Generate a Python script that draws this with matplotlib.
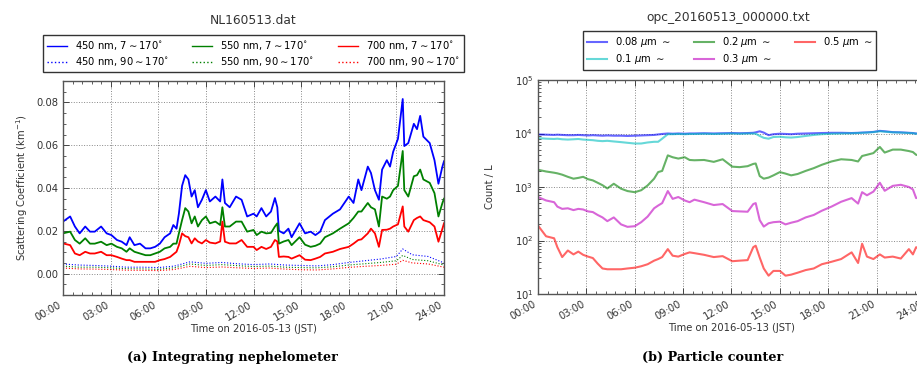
import numpy as np
import matplotlib
matplotlib.use("Agg")
import matplotlib.pyplot as plt
from matplotlib.ticker import FixedLocator, MultipleLocator, LogLocator, NullFormatter

# ---------------- data: integrating nephelometer ----------------
t_neph = [0.0, 0.45, 0.75, 1.05, 1.4, 1.7, 2.0, 2.4, 2.75, 3.05, 3.4, 3.7, 4.0, 4.2, 4.5,
          4.85, 5.2, 5.5, 5.8, 6.1, 6.4, 6.75, 6.95, 7.15, 7.3, 7.5, 7.7, 7.9, 8.1, 8.3,
          8.5, 8.75, 9.0, 9.25, 9.6, 9.9, 10.04, 10.2, 10.5, 10.9, 11.25, 11.6, 12.0, 12.2,
          12.5, 12.8, 13.1, 13.35, 13.5, 13.6, 13.9, 14.2, 14.4, 14.9, 15.25, 15.6, 15.9,
          16.2, 16.5, 17.0, 17.45, 18.0, 18.3, 18.6, 18.8, 19.2, 19.4, 19.65, 19.9, 20.1,
          20.4, 20.6, 20.8, 21.1, 21.4, 21.5, 21.75, 22.1, 22.3, 22.5, 22.7, 23.1, 23.4,
          23.65, 23.9, 24.0]

b450_tot = [0.0243, 0.0267, 0.022, 0.0188, 0.022, 0.0196, 0.0196, 0.022, 0.0188, 0.018,
            0.0157, 0.0149, 0.0133, 0.017, 0.0133, 0.014, 0.0118, 0.0118, 0.0125, 0.014,
            0.017, 0.0188, 0.0227, 0.021, 0.028, 0.041, 0.046, 0.044, 0.036, 0.039,
            0.031, 0.0345, 0.039, 0.0337, 0.036, 0.0337, 0.044, 0.033, 0.031, 0.036,
            0.0345, 0.0267, 0.028, 0.0267, 0.0306, 0.0267, 0.029, 0.0353, 0.031, 0.020,
            0.0188, 0.021, 0.017, 0.0235, 0.0188, 0.0196, 0.018, 0.0196, 0.025, 0.028,
            0.030, 0.036, 0.033, 0.044, 0.039, 0.050, 0.047, 0.039, 0.0345, 0.0486,
            0.053, 0.050, 0.057, 0.063, 0.0816, 0.0596, 0.061, 0.070, 0.0675, 0.0737,
            0.064, 0.061, 0.053, 0.042, 0.050, 0.0525]

b550_tot = [0.0188, 0.0196, 0.0157, 0.014, 0.0165, 0.014, 0.014, 0.0149, 0.0133, 0.014,
            0.0125, 0.0118, 0.0102, 0.0118, 0.0102, 0.0094, 0.0086, 0.0086, 0.0094, 0.0102,
            0.0118, 0.0125, 0.014, 0.014, 0.0188, 0.025, 0.0306, 0.029, 0.0235, 0.0267,
            0.022, 0.025, 0.0267, 0.0235, 0.0243, 0.0227, 0.031, 0.022, 0.022, 0.0243,
            0.0243, 0.0196, 0.0204, 0.018, 0.0196, 0.0188, 0.019, 0.022, 0.0235, 0.014,
            0.015, 0.0157, 0.0133, 0.017, 0.0135, 0.0125, 0.013, 0.014, 0.017, 0.0188,
            0.021, 0.0235, 0.026, 0.029, 0.029, 0.033, 0.031, 0.030, 0.022, 0.036,
            0.035, 0.036, 0.039, 0.041, 0.0573, 0.039, 0.036, 0.0455, 0.046, 0.0486,
            0.044, 0.0424, 0.0376, 0.0267, 0.033, 0.035]

b700_tot = [0.0141, 0.0133, 0.0094, 0.0086, 0.0102, 0.0094, 0.0094, 0.0102, 0.0086, 0.0086,
            0.0078, 0.007, 0.0063, 0.0063, 0.0055, 0.0055, 0.0055, 0.0055, 0.0055, 0.0063,
            0.0068, 0.0078, 0.009, 0.0102, 0.0133, 0.0188, 0.0175, 0.017, 0.0141, 0.0165,
            0.015, 0.0141, 0.0157, 0.0145, 0.0141, 0.015, 0.0243, 0.0149, 0.0141, 0.0141,
            0.0157, 0.0125, 0.0125, 0.011, 0.0125, 0.0115, 0.0125, 0.0157, 0.015, 0.0078,
            0.008, 0.0078, 0.007, 0.0086, 0.0065, 0.0063, 0.007, 0.0078, 0.0094, 0.0102,
            0.0115, 0.0125, 0.014, 0.0157, 0.016, 0.0188, 0.021, 0.0188, 0.0125, 0.0204,
            0.0205, 0.021, 0.022, 0.023, 0.0314, 0.022, 0.0196, 0.025, 0.026, 0.0267,
            0.025, 0.024, 0.022, 0.0149, 0.021, 0.0235]

t_back = [0, 1, 2, 3, 4, 5, 6, 7, 8, 9, 10, 11, 12, 13, 14, 15, 16, 17, 18, 19, 20, 21,
          21.4, 22, 23, 24]
b450_back = [0.0045, 0.0040, 0.0038, 0.0035, 0.0030, 0.0030, 0.0028, 0.0035, 0.0055, 0.0048,
             0.0052, 0.0046, 0.0042, 0.0045, 0.0040, 0.0038, 0.0036, 0.0042, 0.0052, 0.0060,
             0.0068, 0.0080, 0.0115, 0.0088, 0.0080, 0.0050]
b550_back = [0.0035, 0.0030, 0.0030, 0.0027, 0.0023, 0.0022, 0.0020, 0.0027, 0.0045, 0.0038,
             0.0042, 0.0037, 0.0033, 0.0035, 0.0030, 0.0028, 0.0027, 0.0032, 0.0040, 0.0046,
             0.0052, 0.0060, 0.0085, 0.0066, 0.0060, 0.0040]
b700_back = [0.0026, 0.0022, 0.0021, 0.0019, 0.0016, 0.0015, 0.0014, 0.0019, 0.0034, 0.0028,
             0.0031, 0.0027, 0.0024, 0.0026, 0.0021, 0.0018, 0.0017, 0.0022, 0.0029, 0.0034,
             0.0038, 0.0044, 0.0062, 0.0050, 0.0045, 0.0030]

# ---------------- data: optical particle counter ----------------
t_opc = [0, 0.5, 1.0, 1.2, 1.5, 1.85, 2.2, 2.5, 2.8, 3.1, 3.4, 3.7, 4.0, 4.3, 4.7, 5.15,
         5.55, 6.0, 6.4, 6.8, 7.2, 7.45, 7.7, 8.05, 8.35, 8.7, 9.1, 9.4, 9.7, 10.3, 10.9,
         11.45, 12.05, 12.5, 13.0, 13.35, 13.5, 13.75, 14.0, 14.3, 14.6, 15.0, 15.35, 15.7,
         16.1, 16.6, 17.1, 17.6, 18.2, 18.8, 19.45, 19.85, 20.1, 20.4, 20.8, 21.2, 21.5,
         22.0, 22.5, 23.0, 23.25, 23.45, 24.0]

n008 = [9600, 9500, 9400, 9500, 9400, 9300, 9300, 9400, 9300, 9200, 9300, 9200,
        9100, 9200, 9100, 9100, 9000, 9100, 9200, 9300, 9400, 9600, 9800, 10000,
        9900, 10000, 9900, 10000, 10000, 10100, 10000, 10100, 10200, 10100, 10200, 10300,
        10500, 11000, 10400, 9300, 9700, 9900, 9800, 9700, 9900, 10000, 10100, 10200,
        10300, 10300, 10200, 10300, 10400, 10500, 10700, 11200, 11000, 10600, 10500, 10300,
        10200, 10000, 9900]
n01 = [8200, 8000, 7900, 8000, 7800, 7700, 7800, 7900, 7700, 7600, 7500, 7300,
       7200, 7300, 7100, 6900, 6700, 6500, 6500, 6800, 7000, 7000, 8000, 9700,
       9700, 9800, 9700, 9800, 9800, 9900, 9800, 9900, 10000, 9900, 10000, 10000,
       9900, 9000, 8300, 8000, 8600, 8700, 8500, 8400, 8600, 9000, 9400, 9700,
       9900, 10000, 10100, 10200, 10300, 10400, 10600, 11000, 10800, 10500, 10400, 10200,
       10100, 9900, 9800]
n02 = [2100, 1950, 1850, 1800, 1700, 1550, 1430, 1480, 1550, 1400, 1330, 1200,
       1080, 940, 1150, 930, 840, 800, 870, 1070, 1430, 1900, 2000, 3900,
       3600, 3400, 3600, 3200, 3160, 3200, 2950, 3300, 2400, 2350, 2450, 2700,
       2750, 1600, 1430, 1500, 1650, 1900, 1780, 1650, 1750, 2000, 2250, 2600,
       3000, 3300, 3200, 3000, 3800, 4000, 4300, 5600, 4400, 5000, 5000, 4700,
       4500, 4000, 3700]
n03 = [650, 560, 520, 430, 390, 400, 370, 390, 380, 350, 340, 300,
       270, 230, 270, 200, 180, 185, 220, 280, 400, 450, 500, 840,
       600, 650, 560, 520, 580, 520, 460, 480, 355, 350, 345, 480,
       500, 240, 182, 210, 220, 225, 200, 215, 230, 270, 300, 360,
       430, 530, 620, 490, 800, 700, 820, 1200, 850, 1050, 1100, 1000,
       900, 620, 700]
n05 = [190, 120, 110, 75, 49, 65, 55, 62, 54, 50, 47, 37,
       30, 29, 29, 29, 30, 31, 33, 36, 42, 45, 49, 69,
       52, 50, 56, 60, 58, 54, 49, 51, 41, 42, 43, 75,
       80, 48, 30, 22, 27, 27, 22, 23, 25, 28, 30, 36,
       40, 45, 60, 38, 87, 50, 45, 55, 48, 50, 46, 69,
       55, 75, 60]

hour_ticks = [0, 3, 6, 9, 12, 15, 18, 21, 24]
hour_labels = ["00:00", "03:00", "06:00", "09:00", "12:00", "15:00", "18:00", "21:00", "24:00"]

# ---------------- figure ----------------
W, H = 917, 366
fig = plt.figure(figsize=(W / 100, H / 100), dpi=100)
fig.patch.set_facecolor("white")

FS = 7.2


def style_axes(ax):
    ax.set_xlim(0, 24)
    ax.xaxis.set_major_locator(FixedLocator(hour_ticks))
    ax.set_xticklabels(hour_labels, rotation=30, ha="right", fontsize=FS, color="#333333")
    ax.xaxis.set_minor_locator(MultipleLocator(0.6))
    ax.tick_params(which="both", direction="in", top=True, right=True, color="#444444")
    ax.tick_params(which="major", length=4, width=0.7)
    ax.tick_params(which="minor", length=2, width=0.6)
    ax.tick_params(axis="y", labelsize=FS, labelcolor="#333333")
    ax.grid(True, which="major", linestyle=":", color="#888888", linewidth=0.7)
    for s in ax.spines.values():
        s.set_color("#555555")
        s.set_linewidth(1.0)
    ax.set_xlabel("Time on 2016-05-13 (JST)", fontsize=FS, color="#333333", labelpad=1)


# left axes
ax1 = fig.add_axes([63 / W, 1 - 295 / H, 381 / W, 214 / H])
ax1.plot(t_neph, b450_tot, color="b", lw=1.3, label="450 nm, 7$\\sim$170$^{\\circ}$")
ax1.plot(t_back, b450_back, color="b", lw=0.8, ls=":", label="450 nm, 90$\\sim$170$^{\\circ}$")
ax1.plot(t_neph, b550_tot, color="g", lw=1.3, label="550 nm, 7$\\sim$170$^{\\circ}$")
ax1.plot(t_back, b550_back, color="g", lw=0.8, ls=":", label="550 nm, 90$\\sim$170$^{\\circ}$")
ax1.plot(t_neph, b700_tot, color="r", lw=1.3, label="700 nm, 7$\\sim$170$^{\\circ}$")
ax1.plot(t_back, b700_back, color="r", lw=0.8, ls=":", label="700 nm, 90$\\sim$170$^{\\circ}$")
ax1.set_ylim(-0.01, 0.09)
ax1.set_yticks([0.0, 0.02, 0.04, 0.06, 0.08])
ax1.set_yticklabels(["0.00", "0.02", "0.04", "0.06", "0.08"])
ax1.yaxis.set_minor_locator(MultipleLocator(0.005))
style_axes(ax1)
ax1.set_ylabel("Scattering Coefficient (km$^{-1}$)", fontsize=FS, color="#333333")
leg1 = ax1.legend(ncol=3, loc="lower center", bbox_to_anchor=(0.5, 1.04), fontsize=FS,
                  fancybox=False, edgecolor="#333333", framealpha=1, borderaxespad=0,
                  columnspacing=2.3, handlelength=2.0, labelspacing=0.3)
leg1.get_frame().set_linewidth(1.0)
for ln in leg1.get_lines():
    ln.set_linewidth(1.0)
fig.text(253 / W, 1 - 20 / H, "NL160513.dat", ha="center", va="center", fontsize=8.8, color="#333333")

# right axes
ax2 = fig.add_axes([538 / W, 1 - 294 / H, 387 / W, 214 / H])
ax2.plot(t_opc, n008, color="b", lw=1.5, alpha=0.6, label="0.08 $\\mu$m $\\sim$")
ax2.plot(t_opc, n01, color="c", lw=1.5, alpha=0.6, label="0.1 $\\mu$m $\\sim$")
ax2.plot(t_opc, n02, color="g", lw=1.5, alpha=0.6, label="0.2 $\\mu$m $\\sim$")
ax2.plot(t_opc, n03, color="m", lw=1.5, alpha=0.6, label="0.3 $\\mu$m $\\sim$")
ax2.plot(t_opc, n05, color="r", lw=1.5, alpha=0.6, label="0.5 $\\mu$m $\\sim$")
ax2.set_yscale("log")
ax2.set_ylim(10, 1e5)
ax2.yaxis.set_major_locator(LogLocator(base=10, numticks=10))
ax2.yaxis.set_minor_locator(LogLocator(base=10, subs=np.arange(2, 10), numticks=10))
ax2.yaxis.set_minor_formatter(NullFormatter())
style_axes(ax2)
ax2.set_ylabel("Count / L", fontsize=FS, color="#333333", labelpad=14)
leg2 = ax2.legend(ncol=3, loc="lower center", bbox_to_anchor=(0.495, 1.045), fontsize=FS,
                  fancybox=False, edgecolor="#333333", framealpha=1, borderaxespad=0,
                  columnspacing=2.3, handlelength=2.0, labelspacing=0.3)
leg2.get_frame().set_linewidth(1.0)
fig.text(728 / W, 1 - 17 / H, "opc_20160513_000000.txt", ha="center", va="center", fontsize=8.8,
         color="#333333")

# captions
fig.text(232 / W, 1 - 357 / H, "(a) Integrating nephelometer", ha="center", va="center",
         fontsize=9.2, fontweight="bold", family="DejaVu Serif")
fig.text(713 / W, 1 - 357 / H, "(b) Particle counter", ha="center", va="center",
         fontsize=9.2, fontweight="bold", family="DejaVu Serif")

fig.savefig("out.png", dpi=100, facecolor="white")
